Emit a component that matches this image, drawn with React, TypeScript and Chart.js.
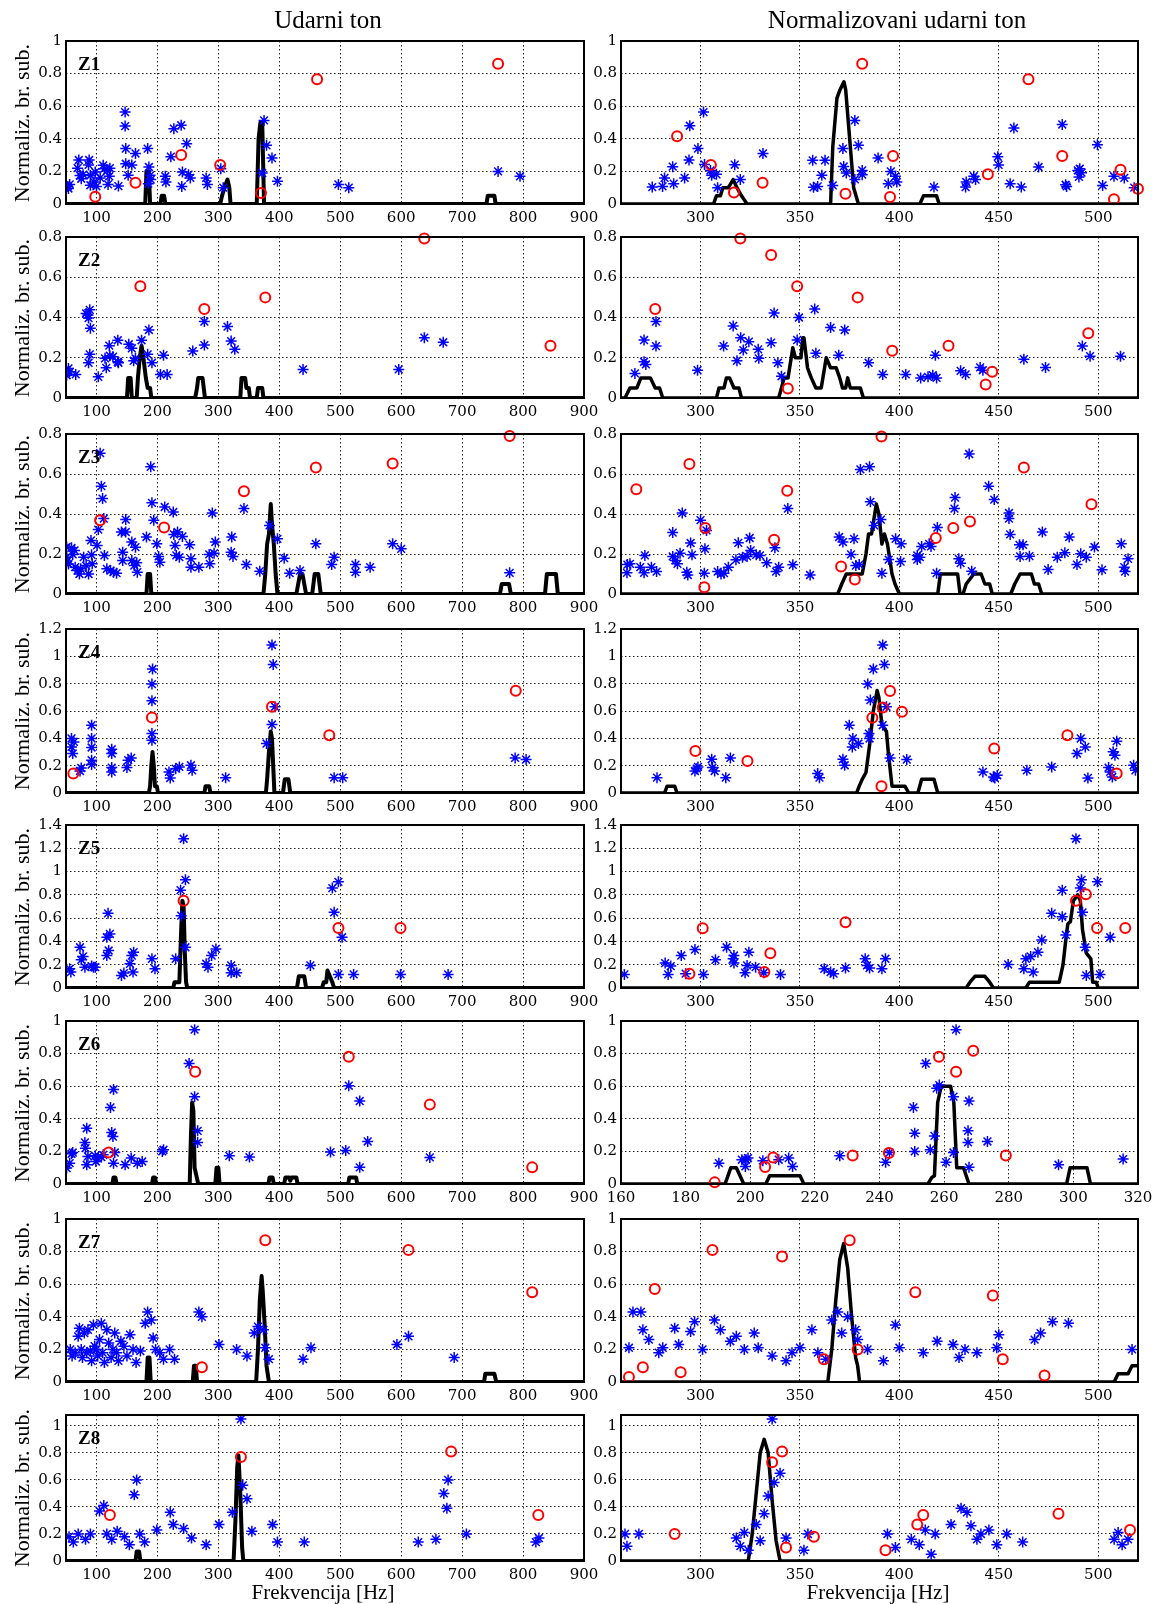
import React, { useEffect, useRef } from "react";
import { Chart, registerables } from "chart.js";
Chart.register(...registerables);

type P = [number, number][];

// ---------- axis ticks ----------
const LEFT_X_TICKS = [100, 200, 300, 400, 500, 600, 700, 800, 900];
const RIGHT_X_TICKS = [300, 350, 400, 450, 500];
const Z6R_X_TICKS = [160, 180, 200, 220, 240, 260, 280, 300, 320];
const ROW_YMAX = [1, 0.8, 0.8, 1.2, 1.4, 1, 1, 1.08];
const ZONE_LABELS = ["Z1", "Z2", "Z3", "Z4", "Z5", "Z6", "Z7", "Z8"];

// ---------- Z1 ----------
const z1L_star: P = [[53,0.108],[56,0.12],[54,0.095],[71,0.27],[69,0.22],[73,0.175],[75,0.155],[78,0.18],[88,0.27],[87,0.24],[90,0.175],[90,0.115],[96,0.135],[98,0.196],[100,0.108],[106,0.16],[111,0.237],[113,0.217],[118,0.206],[119,0.12],[121,0.17],[122,0.22],[136,0.11],[147,0.564],[147,0.478],[148,0.34],[148,0.247],[152,0.176],[158,0.24],[164,0.31],[184,0.34],[186,0.227],[188,0.176],[185,0.125],[189,0.15],[213,0.17],[214,0.135],[222,0.29],[227,0.462],[239,0.483],[241,0.196],[240,0.108],[248,0.37],[251,0.18],[254,0.16],[280,0.16],[282,0.12],[304,0.217],[308,0.1],[375,0.513],[379,0.36],[372,0.19],[388,0.282],[397,0.14],[497,0.12],[514,0.1],[759,0.2],[795,0.17]];
const z1L_circ: P = [[98,0.045],[164,0.13],[239,0.3],[303,0.24],[370,0.067],[462,0.765],[759,0.86]];
const z1L_line: P = [[50,0],[180,0],[182,0.2],[186,0.2],[188,0],[205,0],[207,0.05],[211,0.05],[213,0],[303,0],[306,0.05],[310,0.1],[315,0.15],[318,0.1],[320,0],[363,0],[366,0.4],[369,0.5],[372,0.5],[375,0],[740,0],[742,0.05],[753,0.05],[755,0],[900,0]];
const z1R_star: P = [[275.7,0.104],[280.9,0.108],[281.9,0.16],[286,0.229],[286.5,0.125],[292,0.16],[294.2,0.27],[294.6,0.48],[298.7,0.34],[301.5,0.564],[302,0.243],[305,0.206],[305.6,0.176],[308,0.182],[308.6,0.1],[317.2,0.241],[320,0.151],[331.4,0.31],[356.4,0.268],[356.8,0.102],[358.9,0.108],[361,0.176],[362.6,0.268],[366.5,0.114],[371.6,0.34],[372,0.23],[373.3,0.19],[377.6,0.151],[377.6,0.513],[379.4,0.36],[381.3,0.18],[381.3,0.206],[389.3,0.282],[394.4,0.125],[395.7,0.2],[398,0.17],[398.7,0.135],[417.4,0.104],[433.3,0.104],[433.6,0.135],[437.4,0.17],[438.3,0.15],[449.5,0.29],[449.9,0.24],[455.7,0.125],[457.6,0.466],[461.3,0.104],[470,0.227],[481.9,0.488],[483.6,0.118],[484.1,0.108],[489.7,0.206],[490.3,0.166],[490.7,0.216],[491.6,0.192],[499.6,0.364],[502.2,0.114],[507.9,0.17],[513.1,0.16],[518.1,0.1]];
const z1R_circ: P = [[288.2,0.415],[305.2,0.24],[316.8,0.07],[331.2,0.13],[372.9,0.063],[381.3,0.86],[396.8,0.295],[395.3,0.043],[444.5,0.182],[464.9,0.765],[481.9,0.295],[507.9,0.029],[511.2,0.21],[520,0.094]];
const z1R_line: P = [[260,0],[306.5,0],[308,0.05],[310,0.05],[311.2,0.1],[314,0.1],[316.4,0.15],[318.3,0.1],[320.6,0.05],[323.4,0],[365.4,0],[366.5,0.35],[368.6,0.65],[370.1,0.7],[372.1,0.75],[373,0.7],[375,0.4],[377,0.1],[379.4,0],[410.3,0],[412.1,0.05],[418.7,0.05],[420,0],[520,0]];

// ---------- Z2 ----------
const z2L_star: P = [[51,0.113],[54,0.147],[56,0.13],[66,0.117],[83,0.42],[86,0.413],[87,0.397],[89,0.438],[90,0.347],[87,0.175],[89,0.217],[103,0.105],[114,0.197],[116,0.15],[121,0.26],[122,0.21],[127,0.205],[135,0.287],[135,0.18],[136,0.175],[153,0.267],[158,0.247],[161,0.185],[164,0.197],[174,0.287],[184,0.217],[186,0.338],[191,0.175],[205,0.117],[210,0.213],[216,0.117],[258,0.233],[277,0.38],[277,0.263],[315,0.355],[321,0.283],[327,0.242],[439,0.142],[596,0.142],[638,0.3],[669,0.277]];
const z2L_circ: P = [[172,0.555],[277,0.442],[377,0.5],[638,0.793],[845,0.26]];
const z2L_line: P = [[50,0],[150,0],[152,0.1],[156,0.1],[158,0],[166,0],[168,0.1],[171,0.2],[174,0.26],[177,0.2],[181,0.1],[184,0.05],[188,0.05],[190,0],[262,0],[265,0.05],[267,0.1],[274,0.1],[276,0.05],[278,0],[336,0],[338,0.1],[344,0.1],[346,0.05],[350,0.05],[352,0],[363,0],[365,0.05],[372,0.05],[374,0],[900,0]];
const z2R_star: P = [[267,0.122],[271.6,0.288],[271.6,0.18],[272.5,0.167],[277.6,0.38],[277.6,0.258],[298.5,0.138],[311.6,0.258],[316.4,0.358],[318.3,0.185],[320.2,0.3],[321.5,0.238],[324.3,0.28],[329,0.242],[329.3,0.197],[335.5,0.275],[337,0.422],[338.9,0.175],[340.7,0.108],[348.6,0.288],[349.5,0.4],[358,0.222],[357.4,0.442],[365.4,0.35],[369.5,0.213],[372.5,0.338],[384.5,0.175],[391.6,0.117],[403.2,0.117],[410.7,0.1],[414.4,0.105],[416.8,0.113],[418.1,0.213],[418.7,0.1],[430.8,0.135],[433.3,0.117],[440.6,0.152],[442,0.138],[462.6,0.193],[473.5,0.152],[492,0.258],[495.9,0.208],[511.2,0.208]];
const z2R_circ: P = [[277.2,0.442],[320,0.793],[335.5,0.71],[348.6,0.555],[343.9,0.047],[379,0.5],[396.4,0.235],[424.7,0.26],[443.4,0.067],[446.7,0.13],[495,0.322]];
const z2R_line: P = [[260,0],[262,0],[264.5,0.05],[268,0.05],[270,0.1],[274.8,0.1],[277.2,0.05],[279.4,0.05],[281,0],[308,0],[309.3,0.05],[311.8,0.05],[313,0.1],[314.6,0.1],[316.8,0.05],[319.3,0.05],[320.6,0],[339.3,0],[340.7,0.05],[342,0.1],[344,0.1],[346.4,0.25],[347.7,0.2],[350.5,0.2],[351.4,0.3],[352,0.3],[353.8,0.15],[355.7,0.1],[358,0.05],[360.7,0.05],[363.2,0.2],[365.4,0.15],[368.2,0.15],[370,0.1],[371.4,0.05],[373,0.05],[374,0.1],[375.3,0.05],[380.4,0.05],[381.9,0],[520,0]];

// ---------- Z3 ----------
const z3L_star: P = [[51,0.235],[51,0.16],[51,0.184],[54,0.15],[59,0.231],[61,0.198],[64,0.218],[65,0.134],[69,0.117],[72,0.1],[74,0.126],[79,0.184],[83,0.142],[87,0.1],[91,0.268],[92,0.196],[93,0.151],[101,0.243],[103,0.322],[106,0.704],[108,0.539],[110,0.477],[112,0.377],[113,0.193],[117,0.126],[123,0.117],[128,0.109],[133,0.104],[141,0.31],[143,0.209],[143,0.167],[148,0.372],[148,0.31],[158,0.26],[158,0.167],[164,0.234],[162,0.142],[167,0.109],[166,0.156],[182,0.285],[189,0.636],[191,0.456],[194,0.369],[199,0.251],[202,0.188],[204,0.159],[212,0.435],[226,0.41],[227,0.298],[229,0.243],[231,0.193],[233,0.31],[236,0.184],[241,0.288],[253,0.246],[255,0.176],[255,0.134],[268,0.134],[285,0.198],[286,0.151],[290,0.405],[295,0.26],[293,0.204],[322,0.285],[321,0.209],[324,0.188],[342,0.427],[346,0.147],[368,0.114],[384,0.343],[397,0.276],[408,0.179],[417,0.104],[434,0.117],[460,0.251],[486,0.147],[490,0.184],[525,0.147],[525,0.109],[549,0.134],[586,0.251],[600,0.226],[778,0.106]];
const z3L_circ: P = [[106,0.369],[211,0.332],[342,0.514],[460,0.633],[586,0.652],[778,0.79]];
const z3L_line: P = [[50,0],[182,0],[184,0.1],[188,0.1],[190,0],[374,0],[377,0.1],[380,0.25],[383,0.3],[386,0.45],[388,0.35],[391,0.25],[394,0.1],[397,0],[428,0],[431,0.05],[434,0.1],[438,0.1],[441,0.05],[444,0],[454,0],[456,0.05],[458,0.1],[464,0.1],[466,0.05],[468,0],[762,0],[765,0.05],[777,0.05],[780,0],[836,0],[839,0.1],[854,0.1],[857,0],[900,0]];
const z3R_star: P = [[263,0.106],[263.2,0.147],[264.5,0.151],[269.7,0.134],[271.6,0.106],[272,0.193],[275.3,0.134],[277.9,0.112],[286,0.307],[286,0.188],[287.3,0.168],[288.4,0.151],[289.7,0.204],[290.8,0.405],[293.1,0.109],[293.6,0.095],[295,0.255],[295.7,0.196],[300,0.369],[301.9,0.104],[302.2,0.226],[303,0.318],[308.6,0.112],[310.3,0.1],[311.8,0.104],[314,0.134],[317.8,0.171],[319,0.256],[321.1,0.184],[323.4,0.188],[324.7,0.28],[325.2,0.218],[328,0.196],[329.9,0.193],[333.3,0.156],[337.4,0.231],[338,0.112],[339.3,0.134],[343.9,0.427],[346.4,0.146],[355.1,0.095],[369.7,0.285],[371.6,0.26],[377.2,0.276],[375.7,0.198],[378.1,0.142],[379.8,0.147],[380.4,0.623],[385,0.636],[385.4,0.461],[387.3,0.343],[390.7,0.372],[391.2,0.104],[394.6,0.172],[398.1,0.276],[400.9,0.251],[400.6,0.162],[409,0.172],[409,0.193],[410.3,0.184],[411.2,0.238],[415,0.251],[415.9,0.238],[418.7,0.104],[419.1,0.332],[427.7,0.427],[428,0.482],[429.9,0.176],[430.8,0.154],[435.1,0.7],[436.4,0.114],[444.9,0.539],[447.7,0.472],[455.1,0.405],[455.1,0.377],[455.7,0.298],[460.4,0.246],[462.2,0.246],[460.7,0.188],[465.4,0.189],[471.9,0.31],[474.8,0.122],[479.4,0.184],[483.2,0.206],[485.4,0.285],[489.3,0.147],[491.2,0.201],[494,0.184],[498.1,0.235],[501.9,0.121],[511.6,0.251],[513.1,0.134],[513.5,0.112],[515,0.176]];
const z3R_circ: P = [[267.7,0.524],[294.4,0.65],[302.4,0.33],[301.9,0.034],[337,0.271],[343.6,0.516],[370.7,0.137],[377.6,0.072],[391,0.787],[418.3,0.28],[427.1,0.33],[435.5,0.363],[462.6,0.633],[496.6,0.449]];
const z3R_line: P = [[260,0],[369,0],[371,0.05],[373.3,0.1],[381.3,0.1],[383.2,0.2],[384.5,0.3],[386,0.3],[388.4,0.45],[389.7,0.4],[391.2,0.25],[392.5,0.3],[394,0.25],[396.3,0.1],[397.8,0.05],[400,0],[419.3,0],[420.6,0.1],[429.3,0.1],[430.5,0],[432,0],[433.6,0.05],[437.4,0.1],[441.1,0.1],[443,0.05],[445.4,0.05],[446.7,0],[456,0],[458,0.05],[460.7,0.1],[466.4,0.1],[467.9,0.05],[470,0.05],[471.6,0],[520,0]];

// ---------- Z4 ----------
const z4L_star: P = [[59,0.399],[63,0.374],[59,0.337],[61,0.289],[75,0.183],[73,0.161],[92,0.496],[92,0.399],[92,0.333],[92,0.24],[92,0.208],[125,0.32],[125,0.289],[125,0.186],[125,0.154],[150,0.186],[152,0.24],[157,0.257],[192,0.907],[191,0.797],[191,0.675],[191,0.435],[191,0.386],[219,0.154],[221,0.11],[230,0.178],[236,0.191],[255,0.203],[257,0.166],[312,0.112],[379,0.362],[388,1.083],[390,0.941],[388,0.501],[393,0.631],[490,0.112],[504,0.112],[787,0.257],[805,0.245]];
const z4L_circ: P = [[62,0.142],[191,0.553],[388,0.631],[482,0.423],[788,0.748]];
const z4L_line: P = [[50,0],[186,0],[188,0.05],[190,0.2],[192,0.3],[194,0.2],[196,0.05],[199,0.05],[201,0],[277,0],[279,0.05],[285,0.05],[287,0],[378,0],[380,0.1],[383,0.3],[386,0.45],[388,0.4],[390,0.2],[392,0],[406,0],[409,0.1],[415,0.1],[418,0],[900,0]];
const z4R_star: P = [[278.1,0.112],[297.2,0.161],[298.1,0.178],[298.7,0.191],[305.6,0.247],[306,0.186],[307.1,0.161],[312.7,0.112],[315,0.257],[358.9,0.142],[359.8,0.112],[371.6,0.247],[372.5,0.203],[374.8,0.496],[376.6,0.399],[376.3,0.337],[379.4,0.362],[384.1,0.797],[385.4,0.68],[384.7,0.435],[385,0.399],[386.9,0.907],[391.6,1.083],[392.5,0.941],[391.6,0.496],[393.5,0.631],[395.3,0.257],[403.7,0.245],[442,0.154],[447.3,0.117],[448,0.11],[449.2,0.13],[464.1,0.166],[476.6,0.191],[489.3,0.289],[491.2,0.399],[493.5,0.337],[494.8,0.11],[505.2,0.186],[506,0.154],[507.1,0.117],[507.5,0.301],[508.4,0.276],[509.3,0.379],[517.8,0.203],[518.7,0.166]];
const z4R_circ: P = [[297.4,0.308],[323.6,0.235],[386.4,0.55],[391.6,0.626],[395.3,0.746],[401.3,0.594],[391,0.049],[447.7,0.325],[484.5,0.423],[509.3,0.142]];
const z4R_line: P = [[260,0],[281.9,0],[283.2,0.05],[287,0.05],[288.2,0],[378.5,0],[379.8,0.05],[381.3,0.1],[383.2,0.15],[385,0.35],[386.9,0.6],[388.8,0.75],[389.7,0.7],[391.2,0.5],[393.5,0.45],[394.4,0.3],[396.3,0.05],[402.8,0.05],[404.7,0],[409.3,0],[411.2,0.1],[417.4,0.1],[419.3,0],[520,0]];

// ---------- Z5 ----------
const z5L_star: P = [[56,0.165],[58,0.137],[73,0.35],[75,0.242],[78,0.271],[81,0.179],[92,0.188],[95,0.179],[98,0.179],[117,0.279],[117,0.436],[119,0.641],[120,0.322],[122,0.464],[141,0.108],[145,0.128],[155,0.208],[158,0.279],[161,0.308],[160,0.137],[191,0.251],[196,0.165],[230,0.251],[238,0.84],[239,0.621],[243,1.282],[246,0.929],[246,0.35],[280,0.208],[283,0.179],[289,0.279],[296,0.336],[321,0.194],[321,0.131],[330,0.131],[451,0.194],[487,0.858],[497,0.912],[490,0.65],[503,0.436],[497,0.117],[522,0.117],[599,0.117],[677,0.117]];
const z5L_circ: P = [[243,0.749],[497,0.516],[599,0.516]];
const z5L_line: P = [[50,0],[226,0],[228,0.05],[236,0.05],[239,0.5],[241,0.75],[243,0.7],[245,0.3],[247,0.05],[249,0],[429,0],[432,0.1],[441,0.1],[444,0],[470,0],[473,0.05],[477,0.05],[479,0.15],[483,0.1],[487,0.05],[490,0],[900,0]];
const z5R_star: P = [[261.7,0.117],[282.2,0.214],[283.7,0.117],[285,0.188],[290.3,0.279],[292.5,0.123],[297.2,0.33],[301.5,0.117],[307.5,0.242],[313.1,0.35],[316.8,0.279],[316.8,0.214],[316.4,0.251],[322.4,0.131],[323.4,0.194],[324.3,0.308],[327.7,0.179],[331.8,0.131],[340.2,0.117],[362.2,0.165],[365.4,0.137],[366.9,0.123],[372.9,0.171],[382.8,0.251],[383.7,0.194],[385,0.171],[391.2,0.165],[393,0.251],[454.7,0.202],[462.6,0.165],[463.6,0.251],[466,0.271],[467.3,0.137],[469.7,0.308],[471.6,0.413],[476.6,0.641],[481.9,0.612],[483.7,0.456],[481.9,0.84],[488.8,1.282],[491,0.858],[491.6,0.929],[492.1,0.65],[493.5,0.35],[494,0.108],[499.6,0.912],[500.9,0.117],[506,0.436]];
const z5R_circ: P = [[294.4,0.123],[301.1,0.513],[332.1,0.137],[335.1,0.299],[372.9,0.564],[488.8,0.749],[493.8,0.806],[499.4,0.516],[513.6,0.516]];
const z5R_line: P = [[260,0],[433.6,0],[435.5,0.05],[438,0.1],[443,0.1],[445.4,0.05],[447.3,0],[463.6,0],[465.4,0.05],[474,0.05],[476,0.05],[480.4,0.05],[482.3,0.2],[483.6,0.4],[484.7,0.55],[486,0.57],[487.5,0.75],[489.7,0.8],[491,0.75],[492.1,0.5],[494,0.3],[496.3,0.25],[497.2,0.05],[499,0.05],[500,0],[520,0]];

// ---------- Z6 ----------
const z6L_star: P = [[51,0.098],[56,0.128],[59,0.185],[61,0.193],[81,0.255],[84,0.342],[82,0.22],[86,0.169],[84,0.118],[98,0.173],[99,0.138],[102,0.159],[108,0.165],[111,0.179],[123,0.47],[125,0.316],[127,0.291],[128,0.58],[130,0.193],[128,0.128],[147,0.118],[157,0.159],[167,0.128],[175,0.138],[208,0.2],[210,0.21],[252,0.739],[261,0.947],[261,0.536],[266,0.326],[266,0.255],[318,0.173],[351,0.165],[484,0.196],[509,0.206],[514,0.603],[532,0.509],[532,0.102],[545,0.261],[647,0.163]];
const z6L_circ: P = [[120,0.193],[262,0.688],[514,0.78],[647,0.487],[815,0.102]];
const z6L_line: P = [[50,0],[126,0],[128,0.04],[131,0.04],[133,0],[191,0],[193,0.04],[196,0.04],[198,0],[253,0],[255,0.3],[257,0.5],[259,0.45],[261,0.1],[264,0.05],[267,0],[295,0],[297,0.1],[300,0.1],[302,0],[382,0],[384,0.04],[389,0.04],[391,0],[408,0],[410,0.04],[416,0.04],[418,0.02],[420,0.04],[428,0.04],[430,0],[513,0],[515,0.04],[526,0.04],[528,0],[900,0]];
const z6R_star: P = [[190.3,0.128],[197.4,0.149],[198.7,0.149],[198.5,0.108],[199.3,0.159],[203.9,0.143],[208.8,0.149],[211.9,0.159],[213.1,0.108],[227.7,0.173],[241.9,0.134],[243.1,0.193],[250.5,0.47],[250.9,0.312],[250.9,0.2],[254.3,0.739],[255.7,0.21],[257,0.295],[257.7,0.587],[258.5,0.607],[260.6,0.134],[262.9,0.536],[262.9,0.193],[263.7,0.947],[267.7,0.509],[267.4,0.326],[267.4,0.255],[267.7,0.102],[273.4,0.261],[295.4,0.118],[315.4,0.153]];
const z6R_circ: P = [[189,0.01],[204.6,0.104],[207.1,0.163],[231.7,0.175],[242.9,0.19],[258.4,0.78],[263.7,0.688],[269,0.817],[279.1,0.175]];
const z6R_line: P = [[160,0],[192.2,0],[194,0.1],[195.7,0.1],[198,0],[204.8,0],[206,0.05],[215.4,0.05],[216.6,0],[255,0],[256.2,0.04],[257,0.05],[258,0.5],[259.1,0.6],[262,0.6],[263,0.5],[263.9,0.1],[266,0.1],[267.7,0],[297.9,0],[299,0.1],[304.2,0.1],[305.3,0],[320,0]];

// ---------- Z7 ----------
const z7L_star: P = [[57,0.2],[60,0.16],[65,0.18],[70,0.28],[72,0.33],[75,0.2],[77,0.15],[80,0.3],[84,0.18],[86,0.32],[90,0.19],[92,0.13],[95,0.35],[97,0.22],[100,0.2],[102,0.16],[105,0.26],[108,0.36],[110,0.18],[113,0.12],[117,0.32],[120,0.24],[124,0.15],[127,0.2],[130,0.3],[133,0.18],[136,0.13],[140,0.25],[145,0.22],[150,0.16],[155,0.29],[160,0.2],[165,0.12],[172,0.19],[180,0.36],[184,0.43],[190,0.38],[193,0.27],[197,0.2],[204,0.18],[210,0.14],[220,0.2],[228,0.14],[268,0.43],[273,0.4],[301,0.23],[330,0.2],[347,0.16],[359,0.3],[365,0.34],[374,0.32],[377,0.21],[383,0.14],[439,0.14],[452,0.21],[593,0.23],[612,0.28],[687,0.15]];
const z7L_circ: P = [[273,0.09],[377,0.87],[612,0.81],[815,0.55]];
const z7L_line: P = [[50,0],[182,0],[184,0.15],[187,0.15],[189,0],[258,0],[260,0.1],[263,0.1],[265,0],[362,0],[365,0.2],[368,0.5],[371,0.65],[373,0.55],[376,0.35],[379,0.1],[381,0.05],[383,0],[736,0],[738,0.05],[753,0.05],[756,0],[900,0]];
const z7R_star: P = [[264,0.21],[266,0.43],[270,0.43],[271,0.32],[274,0.26],[279,0.18],[281,0.21],[287,0.33],[289,0.23],[295,0.31],[297,0.37],[301,0.2],[307,0.38],[310,0.32],[315,0.25],[318,0.28],[322,0.2],[327,0.3],[329,0.21],[336,0.16],[343,0.13],[346,0.18],[350,0.21],[356,0.32],[359,0.18],[363,0.14],[366,0.38],[369,0.43],[371,0.3],[374,0.4],[378,0.32],[379,0.26],[384,0.2],[392,0.13],[398,0.35],[400,0.21],[412,0.18],[419,0.25],[427,0.23],[430,0.15],[433,0.2],[439,0.18],[449,0.21],[450,0.29],[468,0.26],[471,0.3],[477,0.37],[485,0.36],[517,0.2]];
const z7R_circ: P = [[264,0.03],[271,0.09],[277,0.57],[290,0.06],[306,0.81],[341,0.77],[362,0.14],[375,0.87],[379,0.2],[408,0.55],[447,0.53],[452,0.14],[473,0.04]];
const z7R_line: P = [[260,0],[364,0],[366,0.2],[368,0.5],[370,0.75],[372,0.85],[374,0.7],[376,0.4],[378,0.15],[379,0.1],[380,0],[508,0],[510,0.05],[515,0.05],[517,0.1],[520,0.1]];

// ---------- Z8 ----------
const z8L_star: P = [[55,0.18],[62,0.14],[70,0.2],[82,0.16],[90,0.2],[105,0.37],[112,0.41],[117,0.2],[125,0.16],[134,0.22],[146,0.18],[154,0.12],[162,0.49],[166,0.6],[171,0.2],[179,0.14],[199,0.23],[221,0.36],[226,0.27],[243,0.24],[256,0.17],[280,0.12],[301,0.27],[323,0.36],[337,1.05],[340,0.56],[347,0.46],[355,0.22],[389,0.27],[397,0.14],[441,0.14],[628,0.14],[657,0.16],[670,0.5],[677,0.6],[675,0.39],[707,0.2],[821,0.14],[826,0.17]];
const z8L_circ: P = [[122,0.34],[337,0.77],[682,0.81],[825,0.34]];
const z8L_line: P = [[50,0],[164,0],[166,0.07],[170,0.07],[172,0],[325,0],[328,0.3],[331,0.7],[333,0.78],[336,0.5],[339,0.1],[341,0],[900,0]];
const z8R_star: P = [[262,0.2],[263,0.11],[269,0.2],[318,0.17],[320,0.11],[322,0.21],[324,0.08],[328,0.27],[330,0.15],[332,0.35],[334,0.48],[336,1.05],[337,0.58],[340,0.65],[343,0.17],[352,0.08],[354,0.2],[394,0.2],[398,0.1],[406,0.16],[410,0.12],[413,0.23],[416,0.05],[418,0.2],[426,0.27],[431,0.39],[434,0.36],[436,0.26],[439,0.16],[441,0.2],[445,0.23],[449,0.12],[454,0.2],[462,0.14],[508,0.16],[510,0.21],[512,0.12],[515,0.16]];
const z8R_circ: P = [[287,0.2],[336,0.73],[341,0.81],[343,0.1],[357,0.18],[393,0.08],[409,0.27],[412,0.34],[480,0.35],[516,0.23]];
const z8R_line: P = [[260,0],[324,0],[326,0.2],[328,0.5],[330,0.8],[332,0.9],[334,0.8],[336,0.45],[338,0.15],[340,0],[520,0]];

// ---------- layout (pixels) ----------
const ROW_TOP = [41, 237, 434, 629, 825, 1021, 1219, 1415];
const ROW_H = [163, 161, 160, 164, 163, 163, 163, 146];
const COL_LEFT = [66, 621];
const COL_W = [518, 517];
const PAD_L = 46, PAD_R = 22, PAD_T = 14, PAD_B = 26;

type Panel = { r: number; c: number; star: P; circ: P; line: P };
const PANELS: Panel[] = [
  { r: 0, c: 0, star: z1L_star, circ: z1L_circ, line: z1L_line },
  { r: 0, c: 1, star: z1R_star, circ: z1R_circ, line: z1R_line },
  { r: 1, c: 0, star: z2L_star, circ: z2L_circ, line: z2L_line },
  { r: 1, c: 1, star: z2R_star, circ: z2R_circ, line: z2R_line },
  { r: 2, c: 0, star: z3L_star, circ: z3L_circ, line: z3L_line },
  { r: 2, c: 1, star: z3R_star, circ: z3R_circ, line: z3R_line },
  { r: 3, c: 0, star: z4L_star, circ: z4L_circ, line: z4L_line },
  { r: 3, c: 1, star: z4R_star, circ: z4R_circ, line: z4R_line },
  { r: 4, c: 0, star: z5L_star, circ: z5L_circ, line: z5L_line },
  { r: 4, c: 1, star: z5R_star, circ: z5R_circ, line: z5R_line },
  { r: 5, c: 0, star: z6L_star, circ: z6L_circ, line: z6L_line },
  { r: 5, c: 1, star: z6R_star, circ: z6R_circ, line: z6R_line },
  { r: 6, c: 0, star: z7L_star, circ: z7L_circ, line: z7L_line },
  { r: 6, c: 1, star: z7R_star, circ: z7R_circ, line: z7R_line },
  { r: 7, c: 0, star: z8L_star, circ: z8L_circ, line: z8L_line },
  { r: 7, c: 1, star: z8R_star, circ: z8R_circ, line: z8R_line },
];

const framePlugin = {
  id: "frame",
  afterDatasetsDraw(chart: any, _args: any, opts: any) {
    const { ctx, chartArea: a } = chart;
    ctx.save();
    ctx.strokeStyle = "#000";
    ctx.lineWidth = 2;
    ctx.strokeRect(a.left, a.top, a.right - a.left, a.bottom - a.top);
    if (opts && opts.label) {
      ctx.fillStyle = "#000";
      ctx.font = 'bold 19px "Liberation Serif"';
      ctx.textBaseline = "alphabetic";
      ctx.textAlign = "left";
      ctx.fillText(opts.label, a.left + 12, a.top + 29);
    }
    ctx.restore();
  },
};

const toXY = (arr: P) => arr.map(([x, y]) => ({ x, y }));

function PanelChart({ p }: { p: Panel }) {
  const ref = useRef<HTMLCanvasElement>(null);
  const w = COL_W[p.c] + PAD_L + PAD_R;
  const h = ROW_H[p.r] + PAD_T + PAD_B;
  useEffect(() => {
    const isLeft = p.c === 0;
    const xTicks = isLeft ? LEFT_X_TICKS : p.r === 5 ? Z6R_X_TICKS : RIGHT_X_TICKS;
    const xmin = isLeft ? 50 : p.r === 5 ? 160 : 260;
    const xmax = isLeft ? 900 : p.r === 5 ? 320 : 520;
    const ymax = ROW_YMAX[p.r];
    const yTicks: number[] = [];
    for (let v = 0; v <= ymax + 1e-9; v += 0.2) yTicks.push(Math.round(v * 10) / 10);
    const tickFont = { family: '"DejaVu Serif"', size: 15 };
    const chart = new Chart(ref.current as HTMLCanvasElement, {
      type: "scatter",
      data: {
        datasets: [
          {
            data: toXY(p.line),
            showLine: true,
            borderColor: "#000",
            backgroundColor: "#000",
            borderWidth: isLeft ? 4 : 3.5,
            pointRadius: 0,
            tension: 0,
            borderJoinStyle: "round",
            borderCapStyle: "round",
            order: 3,
          } as any,
          {
            data: toXY(p.star),
            pointStyle: "star",
            pointRadius: 5.5,
            borderColor: "#0000ff",
            backgroundColor: "#0000ff",
            borderWidth: 1.5,
            order: 2,
          } as any,
          {
            data: toXY(p.circ),
            pointStyle: "circle",
            pointRadius: 5,
            borderColor: "#ff0000",
            backgroundColor: "rgba(0,0,0,0)",
            borderWidth: 2,
            order: 1,
            clip: 8,
          } as any,
        ],
      },
      options: {
        animation: false,
        responsive: false,
        devicePixelRatio: 1,
        events: [],
        layout: { padding: { left: 0, right: PAD_R, top: PAD_T, bottom: 0 } },
        plugins: {
          legend: { display: false },
          tooltip: { enabled: false },
          title: { display: false },
          frame: { label: isLeft ? ZONE_LABELS[p.r] : "" },
        } as any,
        scales: {
          x: {
            type: "linear",
            min: xmin,
            max: xmax,
            afterBuildTicks: (s: any) => {
              s.ticks = xTicks.map((v) => ({ value: v }));
            },
            afterFit: (s: any) => {
              s.height = PAD_B;
            },
            grid: { color: "#222", lineWidth: 1, drawTicks: false },
            border: { display: false, dash: [1.5, 2.5] },
            ticks: {
              padding: 5,
              font: tickFont,
              color: "#000",
              autoSkip: false,
              maxRotation: 0,
              callback: (v: any) => String(v),
            },
          },
          y: {
            type: "linear",
            min: 0,
            max: ymax,
            afterBuildTicks: (s: any) => {
              s.ticks = yTicks.map((v) => ({ value: v }));
            },
            afterFit: (s: any) => {
              s.width = PAD_L;
            },
            grid: { color: "#222", lineWidth: 1, drawTicks: false },
            border: { display: false, dash: [1.5, 2.5] },
            ticks: {
              padding: 4,
              font: tickFont,
              color: "#000",
              autoSkip: false,
              callback: (v: any) => String(Math.round(Number(v) * 10) / 10),
            },
          },
        },
      } as any,
      plugins: [framePlugin],
    });
    return () => chart.destroy();
  }, [p]);
  return (
    <canvas
      ref={ref}
      width={w}
      height={h}
      style={{
        position: "absolute",
        left: COL_LEFT[p.c] - PAD_L,
        top: ROW_TOP[p.r] - PAD_T,
        width: w,
        height: h,
      }}
    />
  );
}

const serif = '"Liberation Serif", "Times New Roman", serif';

export default function App() {
  return (
    <div
      style={{
        position: "absolute",
        left: 0,
        top: 0,
        width: 1159,
        height: 1604,
        background: "#fff",
        overflow: "hidden",
      }}
    >
      {PANELS.map((p, i) => (
        <PanelChart key={i} p={p} />
      ))}
      <div style={{ position: "absolute", left: 328, top: 6.5, transform: "translateX(-50%)", font: `25px ${serif}`, lineHeight: "25px", whiteSpace: "nowrap", color: "#000" }}>
        Udarni ton
      </div>
      <div style={{ position: "absolute", left: 897, top: 6.5, transform: "translateX(-50%)", font: `25px ${serif}`, lineHeight: "25px", whiteSpace: "nowrap", color: "#000" }}>
        Normalizovani udarni ton
      </div>
      <div style={{ position: "absolute", left: 323, top: 1582, transform: "translateX(-50%)", font: `21px ${serif}`, lineHeight: "21px", whiteSpace: "nowrap", color: "#000" }}>
        Frekvencija [Hz]
      </div>
      <div style={{ position: "absolute", left: 878, top: 1582, transform: "translateX(-50%)", font: `21px ${serif}`, lineHeight: "21px", whiteSpace: "nowrap", color: "#000" }}>
        Frekvencija [Hz]
      </div>
      {ROW_TOP.map((t, i) => (
        <div
          key={i}
          style={{
            position: "absolute",
            left: 21.5,
            top: t + ROW_H[i] / 2,
            transform: "translate(-50%,-50%) rotate(-90deg)",
            font: `22px ${serif}`,
            lineHeight: "22px",
            whiteSpace: "nowrap",
            color: "#000",
          }}
        >
          Normaliz. br. sub.
        </div>
      ))}
    </div>
  );
}
